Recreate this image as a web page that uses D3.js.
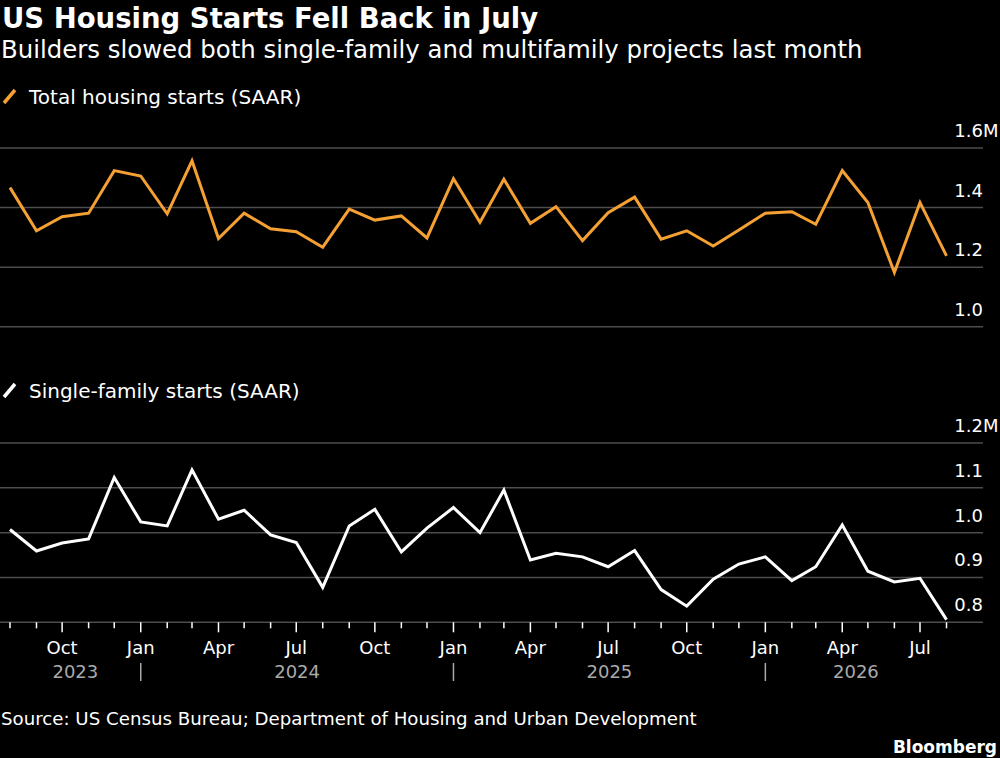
<!DOCTYPE html>
<html lang="en">
<head>
<meta charset="UTF-8">
<title>US Housing Starts</title>
<script src="https://d3js.org/d3.v7.min.js"></script>
<style>
  html, body { margin: 0; padding: 0; background: #000; }
  svg { display: block; font-family: "DejaVu Sans", sans-serif; }
</style>
</head>
<body>
<svg id="chart" width="1000" height="758"></svg>
<script>
// monthly data, Aug 2023 .. Aug 2026 (millions, SAAR)
const months = d3.utcMonths(new Date(Date.UTC(2023, 7, 1)), new Date(Date.UTC(2026, 8, 1)));

const totalStarts = [
  1.467, 1.322, 1.369, 1.381, 1.524, 1.506, 1.379, 1.557, 1.296, 1.381,
  1.329, 1.319, 1.267, 1.395, 1.358, 1.372, 1.298, 1.497, 1.351, 1.495,
  1.347, 1.403, 1.289, 1.383, 1.435, 1.294, 1.322, 1.271, 1.325, 1.381,
  1.386, 1.344, 1.524, 1.417, 1.182, 1.417, 1.238
];

const singleFamily = [
  1.007, 0.959, 0.977, 0.986, 1.123, 1.024, 1.015, 1.140, 1.030, 1.050,
  0.995, 0.978, 0.878, 1.015, 1.052, 0.957, 1.010, 1.056, 1.000, 1.095,
  0.939, 0.954, 0.946, 0.924, 0.960, 0.873, 0.836, 0.896, 0.930, 0.946,
  0.893, 0.924, 1.017, 0.914, 0.890, 0.898, 0.806
];

const totalTicks = [1.0, 1.2, 1.4, 1.6];
const singleTicks = [0.8, 0.9, 1.0, 1.1, 1.2];
const years = [2023, 2024, 2025, 2026];

const svg = d3.select('#chart');
const gridColor = '#4d4d4d';

const x = d3.scaleUtc()
  .domain([months[0], months[months.length - 1]])
  .range([10, 946.5]);

// titles
svg.append('text').attr('x', 2).attr('y', 28)
  .attr('fill', '#fff').attr('font-size', '27.5px').attr('font-weight', 'bold')
  .text('US Housing Starts Fell Back in July');
svg.append('text').attr('x', 1).attr('y', 58)
  .attr('fill', '#fff').attr('font-size', '24.4px')
  .text('Builders slowed both single-family and multifamily projects last month');

function legend(y, color, label) {
  svg.append('line')
    .attr('x1', 4).attr('y1', y + 1).attr('x2', 15).attr('y2', y - 12)
    .attr('stroke', color).attr('stroke-width', 3.5);
  svg.append('text').attr('x', 29).attr('y', y + 2)
    .attr('fill', '#fff').attr('font-size', '20px')
    .text(label);
}

function panel(values, ticks, y, color, suffixTick) {
  const g = svg.append('g');
  g.selectAll('.grid')
    .data(ticks)
    .enter().append('line')
    .attr('x1', 0).attr('x2', 983)
    .attr('y1', d => y(d)).attr('y2', d => y(d))
    .attr('stroke', gridColor).attr('stroke-width', 1.5);
  g.selectAll('.tick')
    .data(ticks)
    .enter().append('text')
    .attr('x', 983).attr('y', d => y(d) - 11)
    .attr('text-anchor', 'end')
    .attr('fill', '#fff').attr('font-size', '18px')
    .text(d => d3.format('.1f')(d));
  g.append('text')
    .attr('x', 983).attr('y', y(suffixTick) - 11)
    .attr('fill', '#fff').attr('font-size', '18px')
    .text('M');

  const line = d3.line()
    .x((d, i) => x(months[i]))
    .y(d => y(d))
    .curve(d3.curveLinear);
  g.append('path')
    .datum(values)
    .attr('d', line)
    .attr('fill', 'none')
    .attr('stroke', color)
    .attr('stroke-width', 3)
    .attr('stroke-linejoin', 'miter');
}

// top panel
const yTop = d3.scaleLinear().domain([1.0, 1.6]).range([326.7, 148]);
legend(102, '#f5a033', 'Total housing starts (SAAR)');
panel(totalStarts, totalTicks, yTop, '#f5a033', 1.6);

// bottom panel
const yBot = d3.scaleLinear().domain([0.8, 1.2]).range([622.3, 443]);
legend(396, '#ffffff', 'Single-family starts (SAAR)');
panel(singleFamily, singleTicks, yBot, '#ffffff', 1.2);

// x axis
const axisY = yBot(0.8);
const axis = svg.append('g');
axis.selectAll('.mtick')
  .data(months)
  .enter().append('line')
  .attr('x1', d => x(d)).attr('x2', d => x(d))
  .attr('y1', axisY)
  .attr('y2', d => axisY + (d.getUTCMonth() % 3 === 0 ? 10 : 6))
  .attr('stroke', '#fff').attr('stroke-width', 1.5);

const quarterMonths = months.filter(d => d.getUTCMonth() % 3 === 0);
axis.selectAll('.mlabel')
  .data(quarterMonths)
  .enter().append('text')
  .attr('x', d => x(d)).attr('y', 654)
  .attr('text-anchor', 'middle')
  .attr('fill', '#fff').attr('font-size', '18px')
  .text(d3.utcFormat('%b'));

const start = months[0], end = months[months.length - 1];
axis.selectAll('.ylabel')
  .data(years)
  .enter().append('text')
  .attr('x', d => {
    const a = d3.max([start, new Date(Date.UTC(d, 0, 1))]);
    const b = d3.min([end, new Date(Date.UTC(d + 1, 0, 1))]);
    return (x(a) + x(b)) / 2;
  })
  .attr('y', 678)
  .attr('text-anchor', 'middle')
  .attr('fill', '#aaa').attr('font-size', '18px')
  .text(d => d);

axis.selectAll('.ysep')
  .data(years.slice(1))
  .enter().append('line')
  .attr('x1', d => x(new Date(Date.UTC(d, 0, 1))))
  .attr('x2', d => x(new Date(Date.UTC(d, 0, 1))))
  .attr('y1', 663).attr('y2', 681)
  .attr('stroke', '#aaa').attr('stroke-width', 1.5);

// footer
svg.append('text').attr('x', 1).attr('y', 725)
  .attr('fill', '#fff').attr('font-size', '18.2px')
  .text('Source: US Census Bureau; Department of Housing and Urban Development');
svg.append('text').attr('x', 997).attr('y', 753)
  .attr('text-anchor', 'end')
  .attr('fill', '#fff').attr('font-size', '17px').attr('font-weight', 'bold')
  .text('Bloomberg');
</script>
</body>
</html>
